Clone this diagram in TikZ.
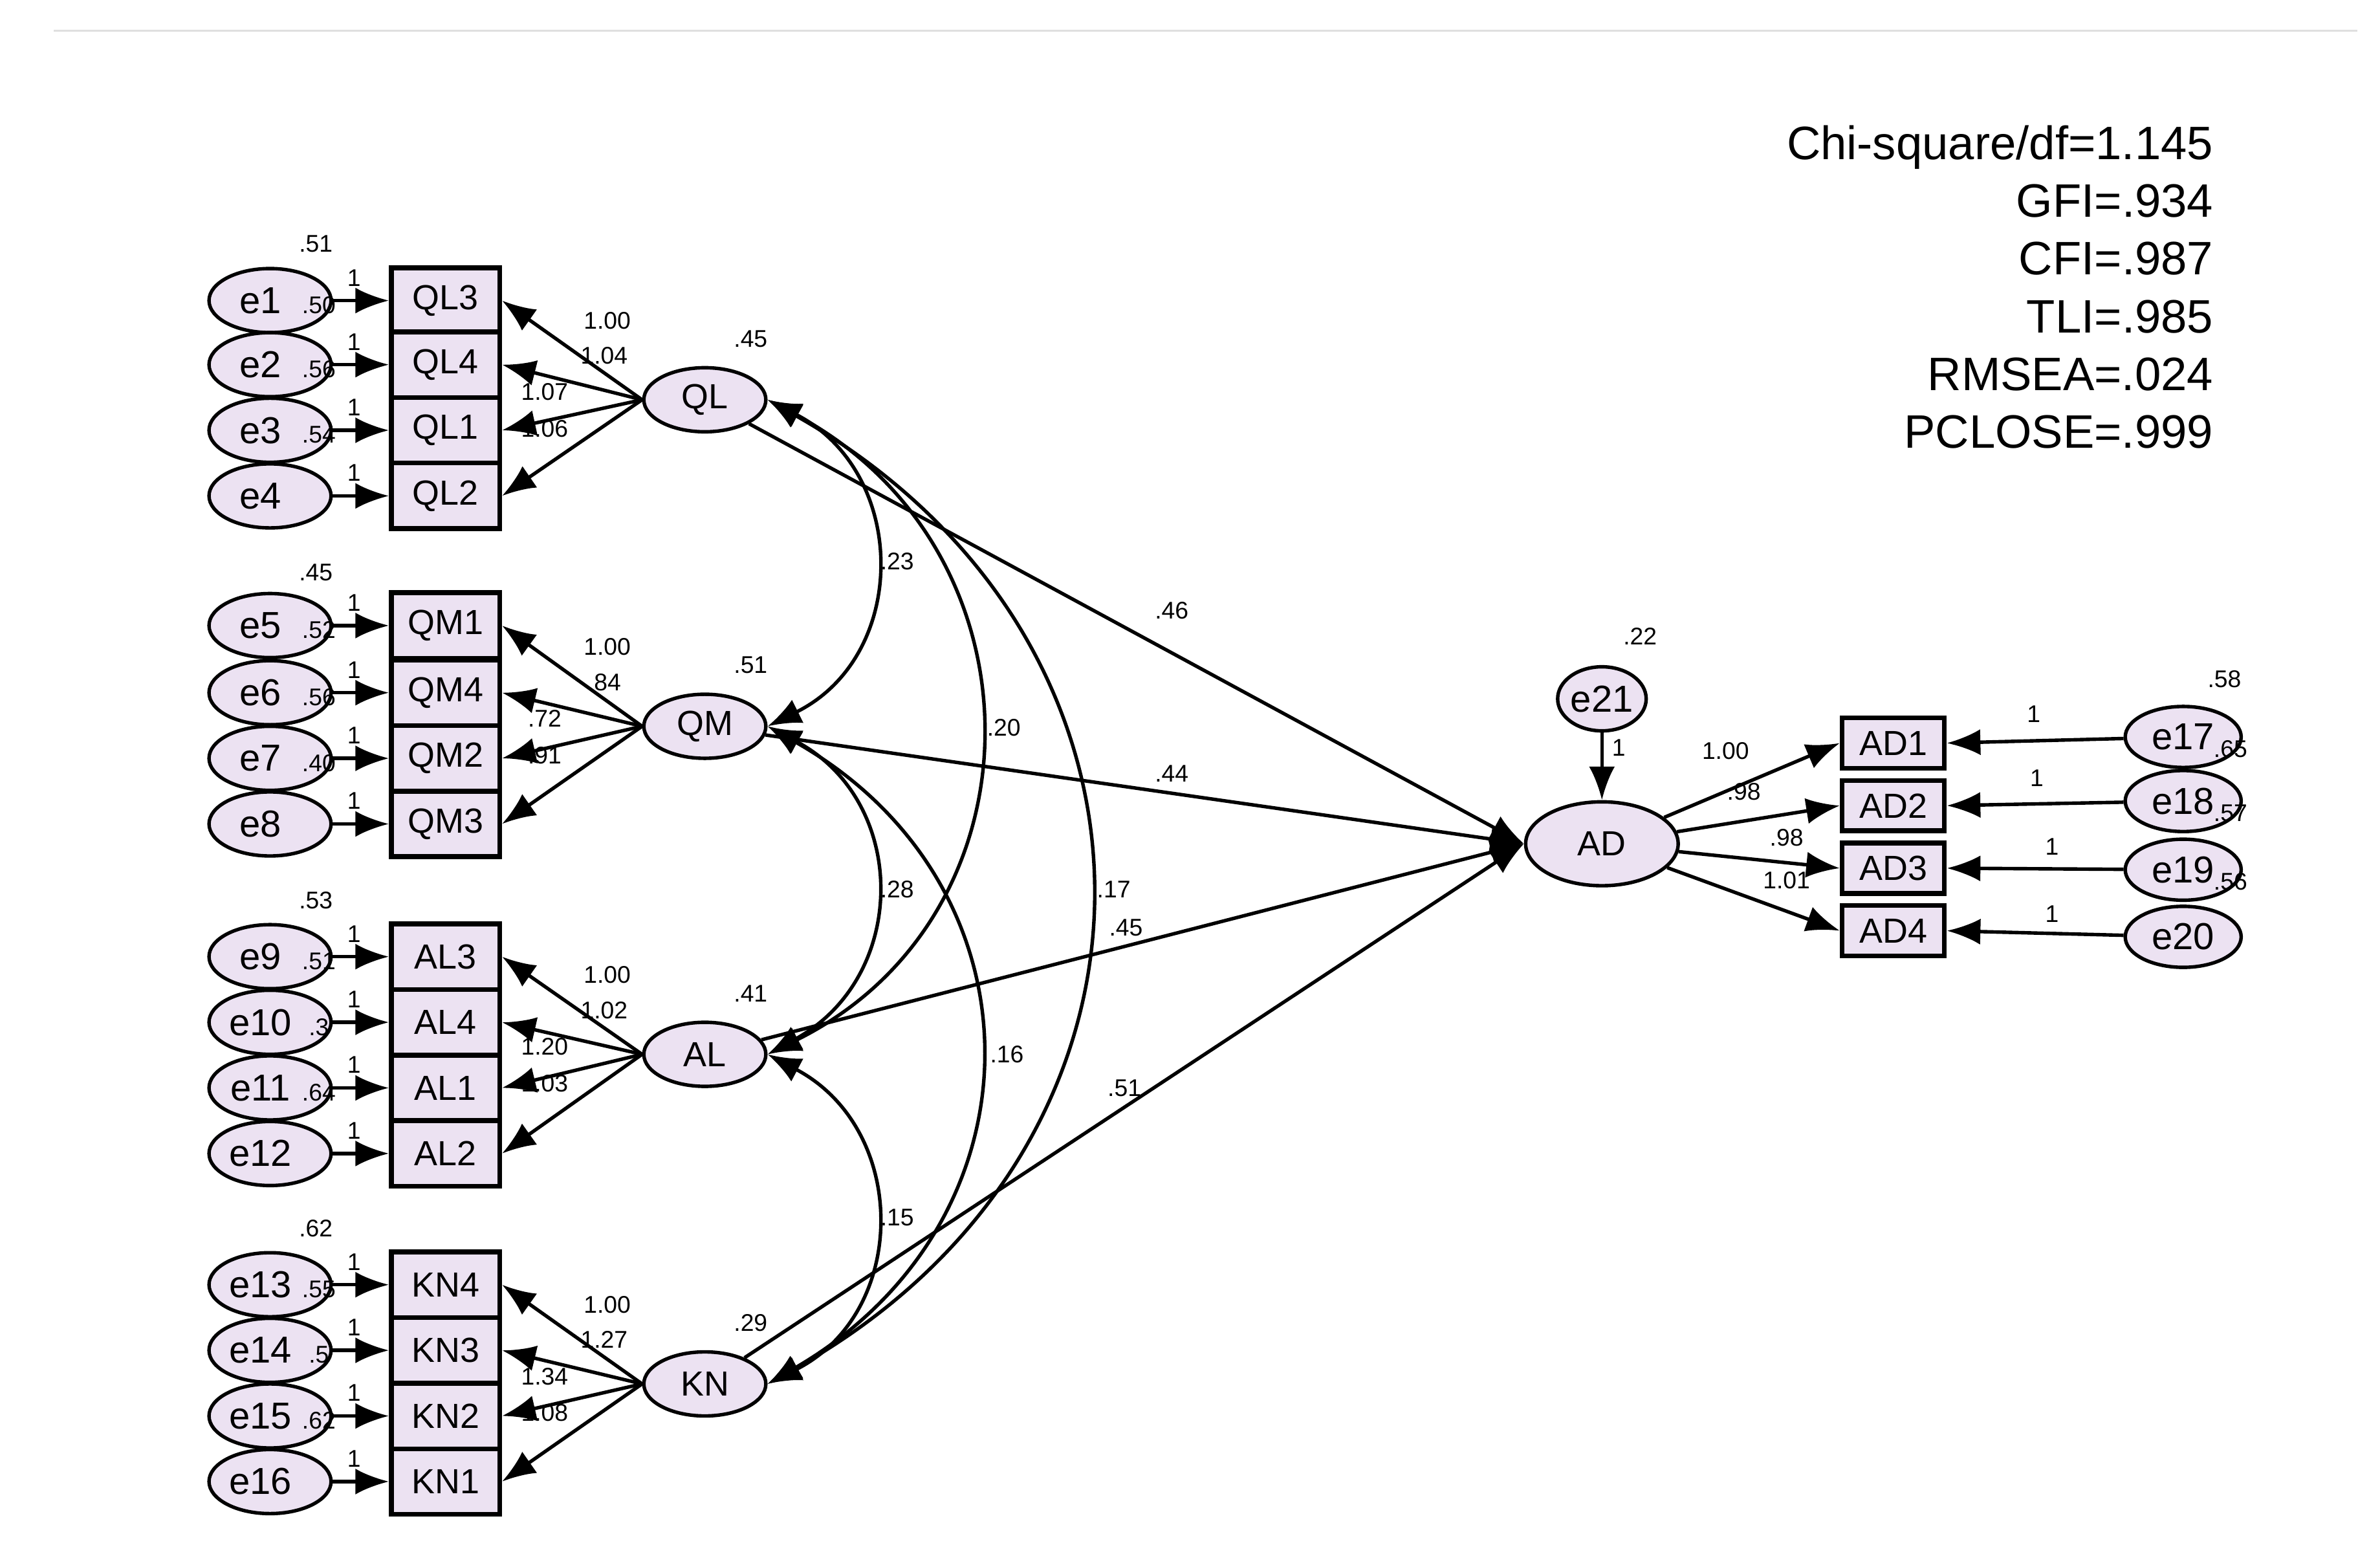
\documentclass[tikz,border=0pt]{standalone}
\usepackage{fontspec}
\setmainfont{Liberation Sans}
\usetikzlibrary{arrows.meta,shapes.geometric}
\definecolor{fillc}{RGB}{236,226,242}
\begin{document}
\begin{tikzpicture}[x=0.02cm,y=-0.02cm,
  err/.style={ellipse,draw,line width=1.3pt,fill=fillc,minimum width=1.6cm,minimum height=0.84cm,inner sep=0pt,font=\fontsize{14}{14}\selectfont},
  obs/.style={rectangle,draw,line width=1.8pt,fill=fillc,minimum width=1.42cm,minimum height=0.86cm,inner sep=0pt,font=\fontsize{13}{13}\selectfont},
  aobs/.style={obs,minimum width=1.34cm,minimum height=0.66cm},
  lat/.style={ellipse,draw,line width=1.3pt,fill=fillc,minimum width=1.6cm,minimum height=0.84cm,inner sep=0pt,font=\fontsize{13}{13}\selectfont},
  lbl/.style={inner sep=0pt,font=\fontsize{9}{9}\selectfont},
  arr/.style={line width=1.3pt,-{Latex[length=0.44cm,width=0.34cm]}},
  dbl/.style={line width=1.3pt,{Latex[length=0.44cm,width=0.34cm]}-{Latex[length=0.44cm,width=0.34cm]}}]
\useasboundingbox (0,0) rectangle (1560,1027);
\draw[gray!25,line width=0.8pt] (35,20) -- (1545,20);
% observed rows
\foreach \n/\y/\e/\s in {QL3/197/1/.50,QL4/239/2/.56,QL1/282/3/.54,QL2/325/4/{},
  QM1/410/5/.52,QM4/454/6/.56,QM2/497/7/.40,QM3/540/8/{},
  AL3/627/9/.51,AL4/670/10/.3,AL1/713/11/.64,AL2/756/12/{},
  KN4/842/13/.55,KN3/885/14/.5,KN2/928/15/.62,KN1/971/16/{}}{
  \node[err] (e\e) at (177,\y) {\hspace*{-0.25cm}e\e};
  \node[obs] (\n) at (292,\y) {\n};
  \draw[arr] (e\e) -- (\n.west);
  \node[lbl] (s\e) at (209,\y+3) {\s};
  \node[lbl] (o\e) at (232,\y-15) {1};
}
\node[lbl] (t1) at (207,160) {.51};
\node[lbl] (t5) at (207,375) {.45};
\node[lbl] (t9) at (207,590) {.53};
\node[lbl] (t13) at (207,805) {.62};
% latents
\foreach \L/\y/\v/\a/\b/\c/\d/\la/\lb/\lc/\ld in {
  QL/262/.45/QL3/QL4/QL1/QL2/1.00/1.04/1.07/1.06,
  QM/476/.51/QM1/QM4/QM2/QM3/1.00/.84/.72/.91,
  AL/691/.41/AL3/AL4/AL1/AL2/1.00/1.02/1.20/1.03,
  KN/907/.29/KN4/KN3/KN2/KN1/1.00/1.27/1.34/1.08}{
  \node[lat] (\L) at (462,\y) {\L};
  \node[lbl] (v\L) at (492,\y-40) {\v};
  \draw[arr] (\L.west) -- (\a.east);
  \draw[arr] (\L.west) -- (\b.east);
  \draw[arr] (\L.west) -- (\c.east);
  \draw[arr] (\L.west) -- (\d.east);
  \node[lbl] (la\L) at (398,\y-52) {\la};
  \node[lbl] (lb\L) at (396,\y-29) {\lb};
  \node[lbl] (lc\L) at (357,\y-5) {\lc};
  \node[lbl] (ld\L) at (357,\y+19) {\ld};
}
% AD part
\node[lat,minimum width=2cm,minimum height=1.1cm] (AD) at (1050,553) {AD};
\node[err,minimum width=0.92cm,minimum height=0.84cm] (e21) at (1050,458) {e21};
\node[lbl] (v21) at (1075,417) {.22};
\draw[arr] (e21) -- (AD);
\node[lbl] (o21) at (1061,490) {1};
\foreach \n/\y/\e/\ey/\s/\l/\lx/\ly/\ox in {AD1/487/17/483/.65/1.00/1131/492/1333,AD2/528/18/525/.57/.98/1143/519/1335,AD3/569/19/570/.56/.98/1171/549/1345,AD4/610/20/614/{}/1.01/1171/577/1345}{
  \node[aobs] (\n) at (1241,\y) {\n};
  \node[err,minimum width=1.52cm,minimum height=0.8cm] (e\e) at (1431,\ey) {e\e};
  \draw[arr] (e\e) -- (\n.east);
  \draw[arr] (AD) -- (\n.west);
  \node[lbl] (s\e) at (1462,\ey+8) {\s};
  \node[lbl] (o\e) at (\ox,\ey-15) {1};
  \node[lbl] (l\e) at (\lx,\ly) {\l};
}
\node[lbl] (t17) at (1458,445) {.58};
% structural
\draw[arr] (QL) -- (AD.west);
\draw[arr] (QM) -- (AD.west);
\draw[arr] (AL) -- (AD.west);
\draw[arr] (KN) -- (AD.west);
\node[lbl] (pQL) at (768,400) {.46};
\node[lbl] (pQM) at (768,507) {.44};
\node[lbl] (pAL) at (738,608) {.45};
\node[lbl] (pKN) at (737,713) {.51};
% covariances
\draw[dbl] (QL.east) .. controls (596,310) and (596,430) .. (QM.east);
\draw[dbl] (QL.east) .. controls (687,360) and (687,600) .. (AL.east);
\draw[dbl] (QL.east) .. controls (783,420) and (783,750) .. (KN.east);
\draw[dbl] (QM.east) .. controls (596,525) and (596,640) .. (AL.east);
\draw[dbl] (QM.east) .. controls (687,580) and (687,800) .. (KN.east);
\draw[dbl] (AL.east) .. controls (596,740) and (596,860) .. (KN.east);
\node[lbl] (c1) at (588,368) {.23};
\node[lbl] (c2) at (658,477) {.20};
\node[lbl] (c3) at (730,583) {.17};
\node[lbl] (c4) at (588,583) {.28};
\node[lbl] (c5) at (660,691) {.16};
\node[lbl] (c6) at (588,798) {.15};
% fit
\node[anchor=north east,align=right,inner sep=0pt,font=\fontsize{17.5}{21.5}\selectfont] (fit) at (1451,82)
 {Chi-square/df=1.145\\GFI=.934\\CFI=.987\\TLI=.985\\RMSEA=.024\\PCLOSE=.999};
\end{tikzpicture}
\end{document}
